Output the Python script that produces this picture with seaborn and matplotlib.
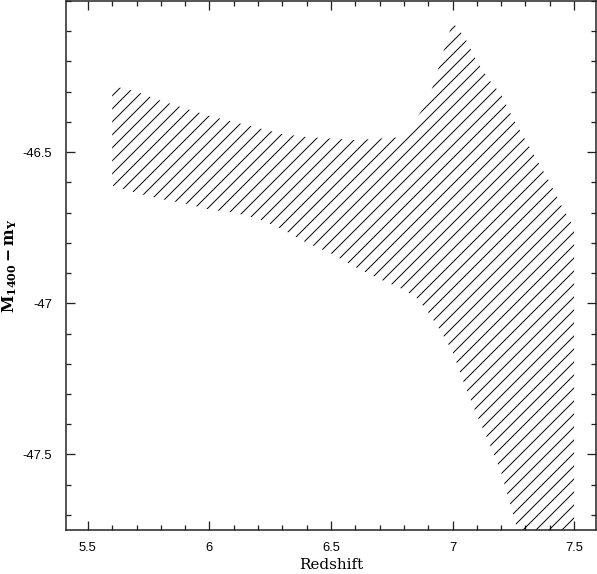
import seaborn as sns
import matplotlib.pyplot as plt
from matplotlib.ticker import MultipleLocator

# Redshift grid and the bounds of the allowed band
redshift = [5.60, 5.70, 5.80, 5.90, 6.00, 6.10, 6.20, 6.30, 6.40, 6.50,
            6.60, 6.70, 6.80, 6.85, 6.90, 6.95, 7.00, 7.05, 7.10, 7.15,
            7.20, 7.25, 7.30, 7.35, 7.40, 7.45, 7.50]
upper = [-46.28, -46.30, -46.33, -46.355, -46.38, -46.40, -46.42, -46.44, -46.45, -46.455,
         -46.46, -46.455, -46.45, -46.39, -46.33, -46.20, -46.07, -46.12, -46.20, -46.26,
         -46.31, -46.39, -46.46, -46.53, -46.60, -46.68, -46.75]
lower = [-46.61, -46.635, -46.655, -46.67, -46.69, -46.70, -46.72, -46.755, -46.80, -46.835,
         -46.88, -46.92, -46.955, -46.98, -47.03, -47.09, -47.16, -47.27, -47.37, -47.46,
         -47.56, -47.70, -47.85, -48.00, -48.15, -48.30, -48.45]

xticks = [5.5, 6.0, 6.5, 7.0, 7.5]
xticklabels = ['5.5', '6', '6.5', '7', '7.5']
yticks = [-47.5, -47.0, -46.5]
yticklabels = ['-47.5', '-47', '-46.5']

DPI = 78  # hatch spacing in matplotlib scales with dpi
sns.set_style('ticks')
plt.rcParams['font.family'] = ['Liberation Sans', 'DejaVu Sans']
plt.rcParams['mathtext.fontset'] = 'dejavuserif'
plt.rcParams['hatch.linewidth'] = 0.9

fig = plt.figure(figsize=(597 / DPI, 574 / DPI), dpi=DPI)
ax = fig.add_axes([66 / 597, 1 - 530 / 574, 530 / 597, 529 / 574])

ax.fill_between(redshift, lower, upper, facecolor='none', edgecolor='black',
                linewidth=0, hatch='//')

ax.set_xlim(5.41, 7.59)
ax.set_ylim(-47.75, -46.0)

ax.set_xticks(xticks)
ax.set_xticklabels(xticklabels)
ax.set_yticks(yticks)
ax.set_yticklabels(yticklabels)
ax.xaxis.set_minor_locator(MultipleLocator(0.1))
ax.yaxis.set_minor_locator(MultipleLocator(0.1))

ax.tick_params(which='both', direction='in', top=True, right=True,
               width=1.2, color='#222222', labelsize=12, labelcolor='black')
ax.tick_params(which='major', length=8)
ax.tick_params(which='minor', length=4.5)
ax.tick_params(axis='x', which='major', pad=11)
ax.tick_params(axis='y', which='major', pad=13)

for side in ax.spines.values():
    side.set_linewidth(1.4)
    side.set_color('#222222')

ax.set_xlabel('Redshift', family='DejaVu Serif', fontsize=14, color='black',
              labelpad=3.5)
ax.set_ylabel(r'$\mathbf{M_{1400}-m_{Y}}$', fontsize=14.5, color='black', labelpad=3.5)

fig.savefig('out.png', dpi=DPI)
